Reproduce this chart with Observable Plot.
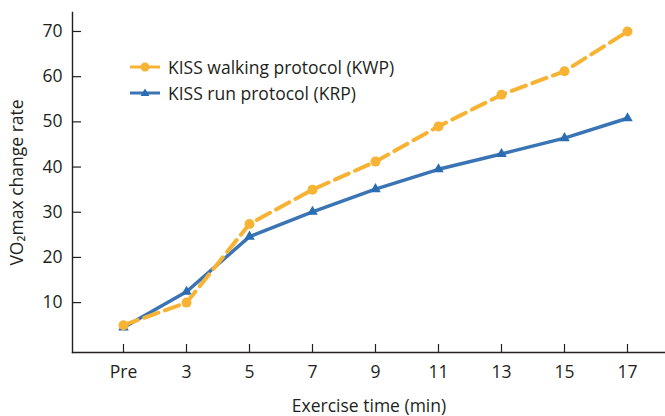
<!DOCTYPE html>
<html><head><meta charset="utf-8">
<script src="https://cdn.jsdelivr.net/npm/d3@7"></script>
<script src="https://cdn.jsdelivr.net/npm/@observablehq/plot@0.6"></script>
<style>
body{margin:0;background:#fff;}
#wrap{position:relative;width:665px;height:416px;font-family:"Open Sans",sans-serif;}
#legend{position:absolute;left:130px;top:54px;font-size:17.5px;color:#231f20;line-height:26px;}
#legend .row{display:flex;align-items:center;height:26px;}
#legend svg{margin-right:8px;}
</style></head><body><div id="wrap"><div id="legend"></div></div>
<script>
const categories = ["Pre","3","5","7","9","11","13","15","17"];
const kwp = [5.0, 10.0, 27.4, 35.0, 41.2, 49.0, 56.0, 61.2, 70.0];
const krp = [4.5, 12.4, 24.6, 30.1, 35.1, 39.5, 42.9, 46.4, 50.8];
const yTicks = [10, 20, 30, 40, 50, 60, 70];
const seriesNames = ["KISS walking protocol (KWP)", "KISS run protocol (KRP)"];
const colors = ["#f6b334", "#3a74b5"];
const markerColors = ["#f6b334", "#2a6db3"];

const kwpRows = categories.map((c, i) => ({x: c, y: kwp[i]}));
const krpRows = categories.map((c, i) => ({x: c, y: krp[i]}));
const ink = "#231f20";

const chart = Plot.plot({
  width: 665, height: 416,
  marginLeft: 72, marginRight: 0, marginTop: 12, marginBottom: 64,
  style: {fontFamily: '"Open Sans", sans-serif', fontSize: "17.5px", color: ink, background: "#fff"},
  x: {type: "point", domain: categories, range: [121, 629], padding: 0},
  y: {domain: [-1.04, 74.2]},
  marks: [
    Plot.frame({anchor: "left", stroke: ink, strokeWidth: 1.4}),
    Plot.frame({anchor: "bottom", stroke: ink, strokeWidth: 1.4}),
    Plot.axisX({tickSize: -8, tickFormat: () => "", label: null, stroke: ink, strokeWidth: 1.2}),
    Plot.axisX({tickSize: 0, tickPadding: 13, label: "Exercise time (min)", labelAnchor: "center", labelOffset: 59, labelArrow: "none", fill: ink}),
    Plot.axisY({ticks: yTicks, tickSize: -9, tickFormat: () => "", label: null, stroke: ink, strokeWidth: 1.2}),
    Plot.axisY({ticks: yTicks, tickSize: 0, tickPadding: 10, label: "VO₂max change rate", labelAnchor: "center", labelOffset: 62, labelArrow: "none", fill: ink}),
    Plot.line(krpRows, {x: "x", y: "y", stroke: colors[1], strokeWidth: 3.5}),
    Plot.dot(krpRows, {x: "x", y: "y", symbol: "triangle", r: 3.9, fill: markerColors[1]}),
    Plot.line(kwpRows, {x: "x", y: "y", stroke: colors[0], strokeWidth: 4, strokeDasharray: "15,7"}),
    Plot.dot(kwpRows, {x: "x", y: "y", r: 5, fill: markerColors[0]})
  ]
});
document.getElementById("wrap").prepend(chart);

const legend = document.getElementById("legend");
seriesNames.forEach((name, i) => {
  const row = document.createElement("div");
  row.className = "row";
  const marker = i === 0
    ? `<circle cx="15" cy="7" r="4.5" fill="${markerColors[0]}"/>`
    : `<path d="M15,2.5 L19.5,10 L10.5,10 Z" fill="${markerColors[1]}"/>`;
  row.innerHTML = `<svg width="30" height="14"><line x1="0" x2="30" y1="7" y2="7" stroke="${colors[i]}" stroke-width="3"/>${marker}</svg><span>${name}</span>`;
  legend.appendChild(row);
});
</script>
</body></html>
